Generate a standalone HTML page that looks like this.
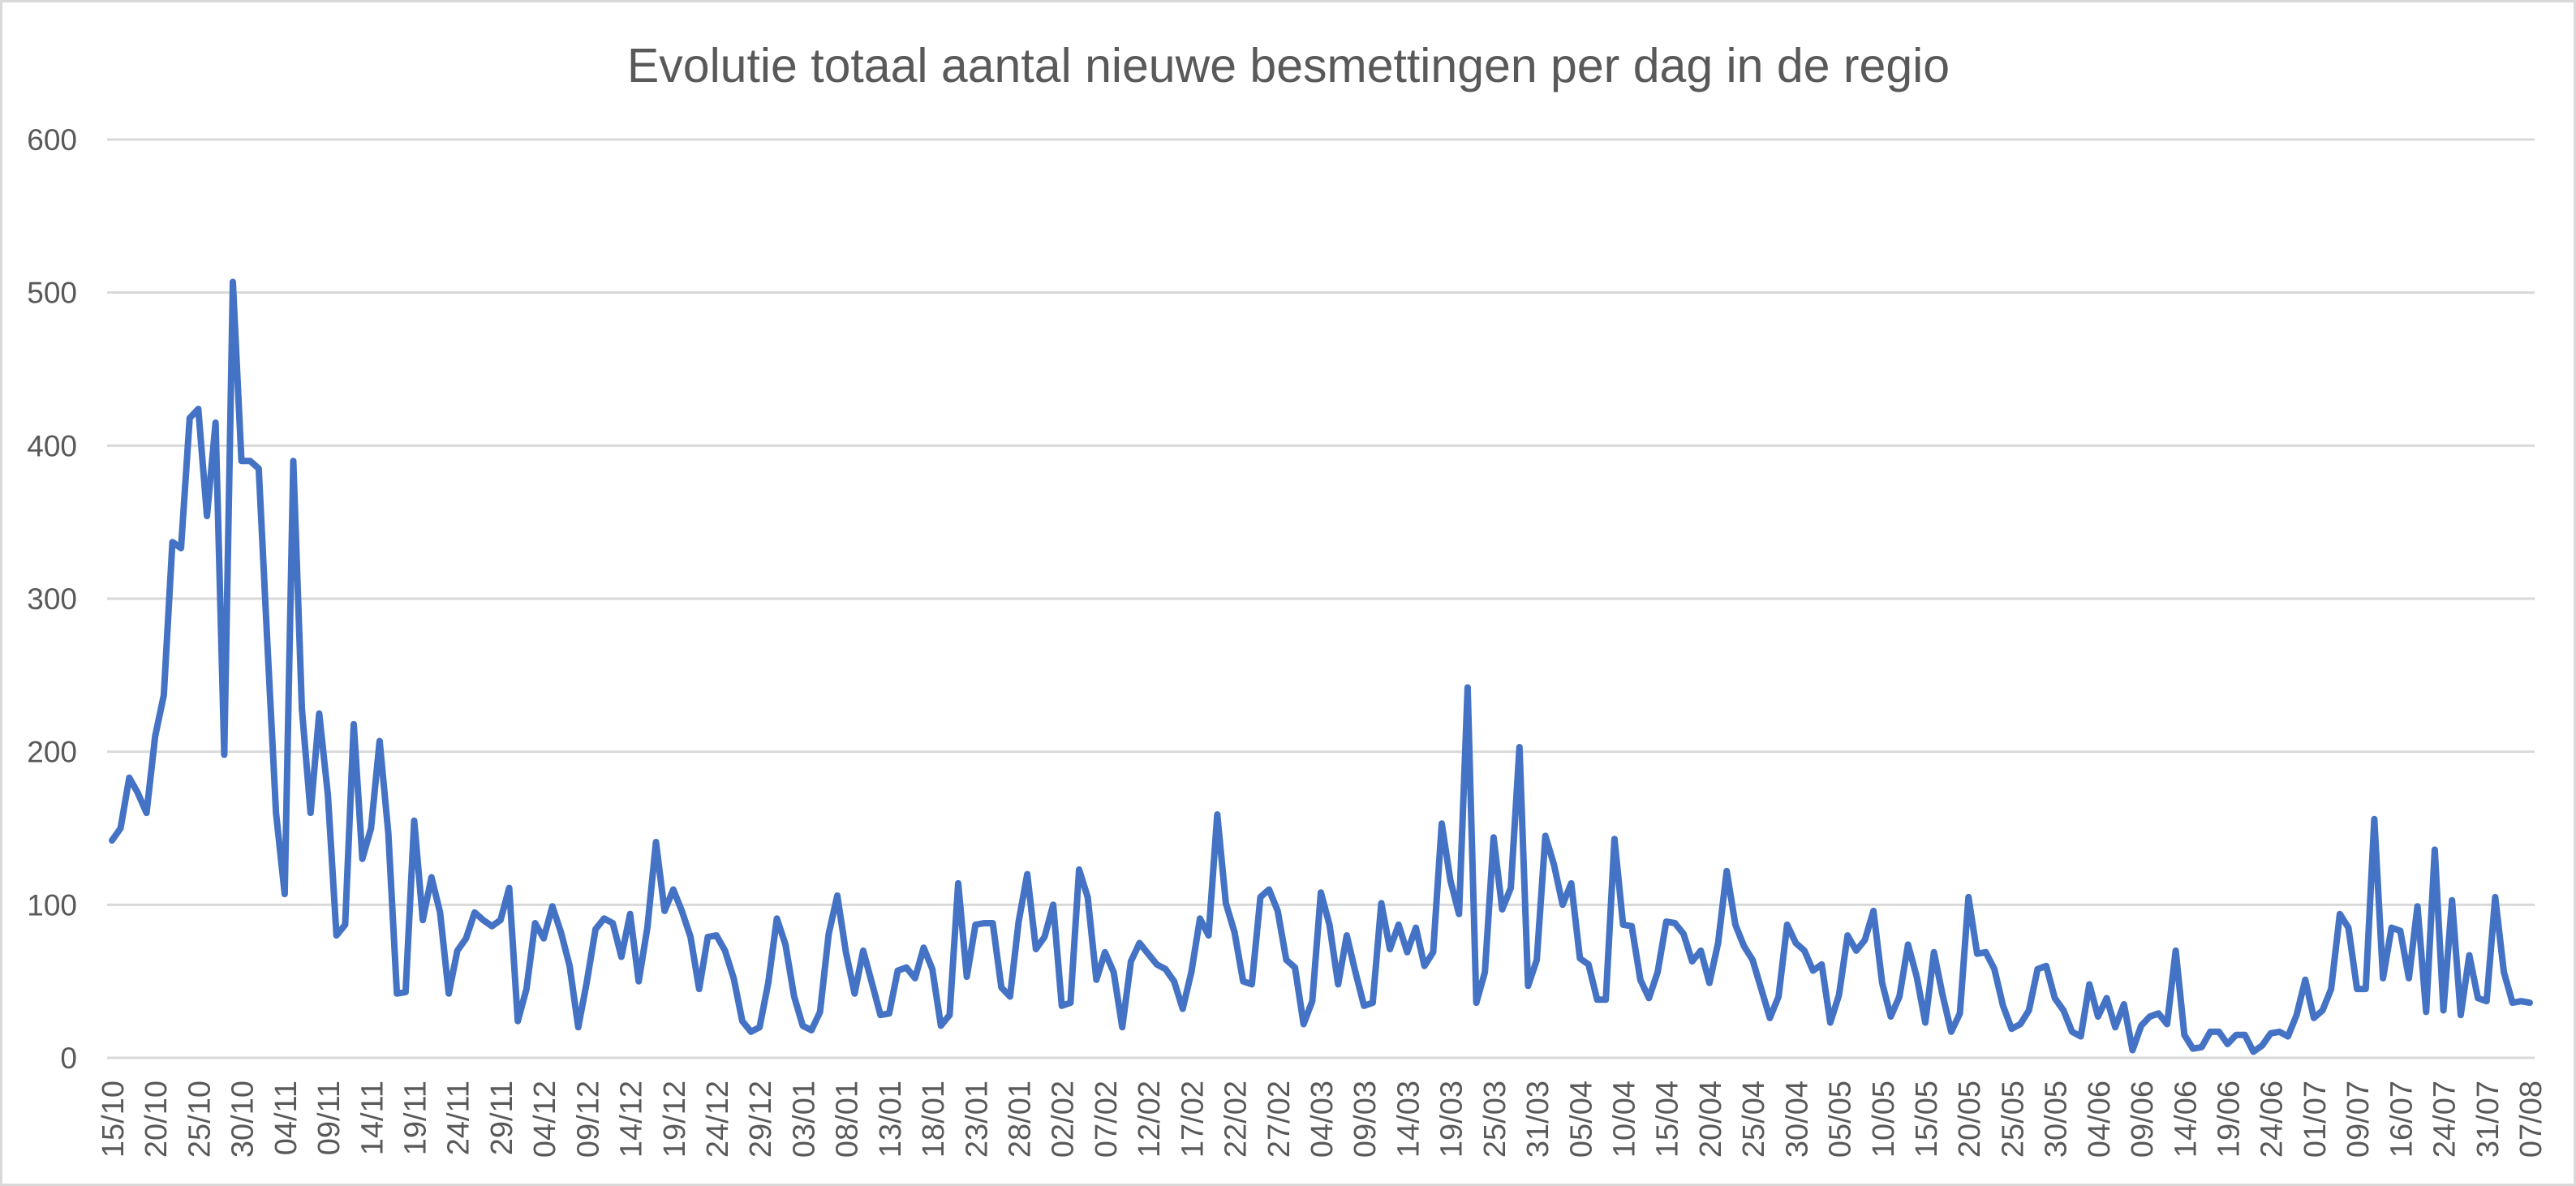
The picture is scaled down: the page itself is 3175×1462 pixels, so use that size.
<!DOCTYPE html>
<html><head><meta charset="utf-8"><style>
html,body{margin:0;padding:0;background:#fff;}
svg{display:block;font-family:"Liberation Sans",sans-serif;}
</style></head><body>
<svg id="chart" width="3175" height="1462" viewBox="0 0 3175 1462" xmlns="http://www.w3.org/2000/svg">
<rect x="1.5" y="1.5" width="3172" height="1459" fill="#fff" stroke="#d9d9d9" stroke-width="3"/>
<text x="1588" y="101" text-anchor="middle" font-size="59" fill="#595959">Evolutie totaal aantal nieuwe besmettingen per dag in de regio</text>
<g id="grid"></g><g id="yticks"></g><g id="xticks"></g><g id="series"></g>
</svg>
<script>
const yTicks=[0,100,200,300,400,500,600];
const xLabels=["15/10","20/10","25/10","30/10","04/11","09/11","14/11","19/11","24/11","29/11","04/12","09/12","14/12","19/12","24/12","29/12","03/01","08/01","13/01","18/01","23/01","28/01","02/02","07/02","12/02","17/02","22/02","27/02","04/03","09/03","14/03","19/03","25/03","31/03","05/04","10/04","15/04","20/04","25/04","30/04","05/05","10/05","15/05","20/05","25/05","30/05","04/06","09/06","14/06","19/06","24/06","01/07","09/07","16/07","24/07","31/07","07/08"];
const values=[142,150,183,173,160,210,237,337,333,418,424,354,415,198,507,390,390,385,270,160,107,390,228,160,225,172,80,87,218,130,150,207,147,42,43,155,90,118,95,42,70,78,95,90,86,90,111,24,45,88,78,99,82,60,20,50,84,91,88,66,94,50,85,141,96,110,96,79,45,79,80,70,52,24,17,20,49,91,74,40,21,18,30,81,106,69,42,70,49,28,29,57,59,52,72,58,21,28,114,53,87,88,88,46,40,89,120,71,79,100,34,36,123,105,51,69,56,20,63,75,68,61,58,50,32,56,91,80,159,101,82,50,48,105,110,96,64,59,22,37,108,87,48,80,56,34,36,101,71,87,69,85,60,69,153,116,94,242,36,56,144,97,111,203,47,64,145,126,100,114,65,61,38,38,143,87,86,51,39,56,89,88,81,63,70,49,75,122,87,73,64,45,26,40,87,75,70,57,61,23,41,80,70,77,96,49,27,40,74,53,23,69,41,17,29,105,68,69,58,34,19,22,31,58,60,39,31,17,14,48,27,39,20,35,5,21,27,29,22,70,15,6,7,17,17,9,15,15,4,8,16,17,14,28,51,26,31,45,94,85,45,45,156,52,85,83,52,99,30,136,31,103,28,67,39,37,105,56,36,37,36];
const NS="http://www.w3.org/2000/svg";
const x0=138,x1=3118,yBase=1304,yTop=172,yMax=600;
function xs(i){return x0+(x1-x0)*i/(values.length-1);}
function ys(v){return yBase-(yBase-yTop)*v/yMax;}
const grid=document.getElementById('grid'),yt=document.getElementById('yticks'),xt=document.getElementById('xticks'),ser=document.getElementById('series');
yTicks.forEach(t=>{
  const l=document.createElementNS(NS,'line');
  
  
  l.setAttribute('x1',132);l.setAttribute('x2',3124);l.setAttribute('y1',ys(t));l.setAttribute('y2',ys(t));
  l.setAttribute('stroke','#d9d9d9');l.setAttribute('stroke-width','3');
  grid.appendChild(l);
  const tx=document.createElementNS(NS,'text');
  
  
  tx.setAttribute('x',95);tx.setAttribute('y',ys(t)+13);tx.setAttribute('text-anchor','end');
  tx.setAttribute('font-size','37');tx.setAttribute('fill','#595959');
  tx.textContent=t;yt.appendChild(tx);
});
xLabels.forEach((lab,k)=>{
  const i=k*5;const x=xs(i);
  const tx=document.createElementNS(NS,'text');
  
  
  tx.setAttribute('transform','translate('+(x+14)+',1332) rotate(-90)');
  tx.setAttribute('text-anchor','end');
  tx.setAttribute('font-size','38');tx.setAttribute('fill','#595959');
  tx.textContent=lab;xt.appendChild(tx);
});
let d='';values.forEach((v,i)=>{d+=(i?'L':'M')+xs(i).toFixed(1)+','+ys(v).toFixed(1);});
const p=document.createElementNS(NS,'path');


p.setAttribute('d',d);p.setAttribute('fill','none');p.setAttribute('stroke','#4472C4');
p.setAttribute('stroke-width','8');p.setAttribute('stroke-linejoin','round');p.setAttribute('stroke-linecap','round');
ser.appendChild(p);
</script>
</body></html>
